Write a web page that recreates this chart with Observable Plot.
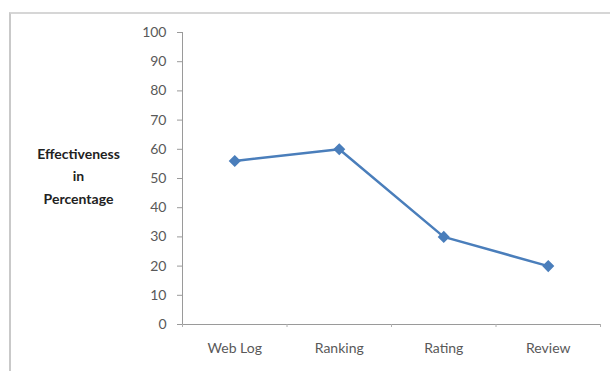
<!DOCTYPE html>
<html>
<head>
<meta charset="utf-8">
<script src="https://cdn.jsdelivr.net/npm/d3@7"></script>
<script src="https://cdn.jsdelivr.net/npm/@observablehq/plot@0.6"></script>
<style>
  html, body { margin: 0; padding: 0; background: #fff; }
  #wrap { position: relative; width: 610px; height: 371px; overflow: hidden; }
  #frame {
    position: absolute; left: 9px; top: 12px; width: 620px; height: 380px;
    border-left: 2px solid #c9c9c9; border-top: 2px solid #d6d6d6;
  }
  #chart { position: absolute; left: 0; top: 0; }
</style>
</head>
<body>
<div id="wrap"><div id="frame"></div><div id="chart"></div></div>
<script>
// Categories and effectiveness values (percent)
const categories = ["Web Log", "Ranking", "Rating", "Review"];
const effectiveness = [56, 60, 30, 20];
const yTicks = [0, 10, 20, 30, 40, 50, 60, 70, 80, 90, 100];
const yLabel = "Effectiveness\nin\nPercentage";

const data = categories.map((c, i) => ({i, category: c, value: effectiveness[i]}));
// category boundaries for the small tick marks between labels
const boundaries = d3.range(categories.length + 1).map(k => k - 0.5);

const font = "Lato, 'Open Sans', sans-serif";
const blue = "#4a7ebb";

const chart = Plot.plot({
  width: 610,
  height: 371,
  marginLeft: 182,
  marginRight: 10,
  marginTop: 32,
  marginBottom: 47,
  style: {fontFamily: font, fontSize: "14px", color: "#595959", background: "transparent"},
  x: {type: "linear", domain: [-0.5, categories.length - 0.5]},
  y: {domain: [0, 100]},
  marks: [
    // y axis with ticks every 10
    Plot.axisY({ticks: yTicks, tickSize: 5, tickPadding: 11, label: null, stroke: "#9a9a9a", fontSize: 14}),
    Plot.ruleX([-0.5], {stroke: "#9a9a9a"}),
    // x axis: boundary ticks and centred category labels
    Plot.ruleY([0], {stroke: "#9a9a9a"}),
    Plot.axisX({ticks: boundaries, tickSize: 3, tickFormat: () => "", label: null, stroke: "#b0b0b0"}),
    Plot.axisX({ticks: d3.range(categories.length), tickSize: 0, tickPadding: 19,
      tickFormat: i => categories[i], label: null, fontSize: 14}),
    // axis title on the left
    Plot.text([yLabel], {frameAnchor: "left", y: () => 51.5, dx: -104, text: d => d,
      textAnchor: "middle", lineHeight: 1.6, fontWeight: "bold", fontSize: 14, fill: "#222"}),
    // series
    Plot.line(data, {x: "i", y: "value", stroke: blue, strokeWidth: 2.5}),
    Plot.dot(data, {x: "i", y: "value", symbol: "diamond2", r: 4.5, fill: blue, stroke: blue})
  ]
});
document.getElementById("chart").append(chart);
</script>
</body>
</html>
